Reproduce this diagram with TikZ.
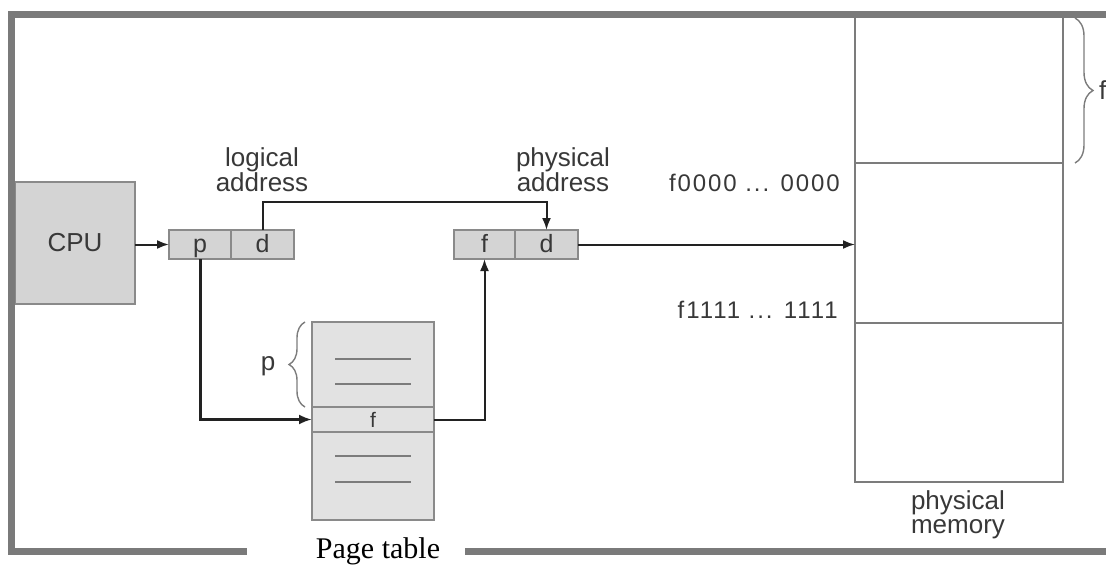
\documentclass[tikz,border=0pt]{standalone}
\usepackage{fontspec}
\setmainfont{Liberation Sans}
\newfontfamily\captionserif{Liberation Serif}
\newfontfamily\spacedsans[LetterSpace=8]{Liberation Sans}
\usetikzlibrary{arrows.meta,decorations.pathreplacing,calc}

\definecolor{framegray}{HTML}{7A7A7A}
\definecolor{boxfill}{HTML}{D4D4D4}
\definecolor{ptfill}{HTML}{E2E2E2}
\definecolor{boxline}{HTML}{8A8A8A}
\definecolor{memline}{HTML}{7C7C7C}
\definecolor{conn}{HTML}{222222}
\definecolor{txt}{HTML}{383838}

\begin{document}
\begin{tikzpicture}[x=1pt,y=-1pt,
  cell/.style={draw=boxline, fill=boxfill, line width=1.5pt, minimum height=29pt,
    inner sep=0pt, outer sep=0pt, text=txt, font=\fontsize{25}{25}\selectfont,
    text height=18pt, text depth=2pt},
  cpubox/.style={draw=boxline, fill=boxfill, line width=1.5pt,
    inner sep=0pt, outer sep=0pt, text=txt, font=\fontsize{26}{26}\selectfont},
  memcell/.style={draw=memline, fill=white, line width=1.6pt, minimum width=208pt,
    inner sep=0pt, outer sep=0pt},
  ptcell/.style={draw=boxline, fill=ptfill, line width=1.5pt, minimum width=122pt,
    inner sep=0pt, outer sep=0pt, text=txt},
  ptrule/.style={draw=memline, line width=1.6pt},
  arr/.style={draw=conn, line width=2pt, -{Latex[length=12pt,width=9pt]}},
  thickarr/.style={draw=conn, line width=3pt, -{Latex[length=13pt,width=10pt]}},
  lbl/.style={align=center, inner sep=0pt, text=txt, font=\fontsize{26}{24}\selectfont},
  bits/.style={inner sep=0pt, text=txt, font=\spacedsans\fontsize{24}{24}\selectfont},
  bracemark/.style={draw=memline, line width=1.4pt, decorate},
  frame/.style={draw=framegray, line width=7pt}
]
\useasboundingbox (0,0) rectangle (1106,567);

% CPU
\node[cpubox, minimum width=120pt, minimum height=122pt, anchor=north west] (cpu) at (15,182) {CPU};

% logical address p | d
\node[cell, minimum width=62pt, anchor=north west] (lp) at (169,230) {p};
\node[cell, minimum width=63pt, anchor=west] (ld) at (lp.east) {d};
\node[lbl] (loglbl) at (262,170) {logical\\address};

% physical address f | d
\node[cell, minimum width=61pt, anchor=north west] (fp) at (454,230) {f};
\node[cell, minimum width=63pt, anchor=west] (pd) at (fp.east) {d};
\node[lbl] (physlbl) at (563,170) {physical\\address};

% physical memory frames
\node[memcell, minimum height=148pt, anchor=north west] (m1) at (855,15) {};
\node[memcell, minimum height=160pt, anchor=north] (m2) at (m1.south) {};
\node[memcell, minimum height=159pt, anchor=north] (m3) at (m2.south) {};
\node[lbl] (memlbl) at (958,515) {physical\\memory};
\node[bits, anchor=east] (lo) at (840,183) {f0000 ... 0000};
\node[bits, anchor=east] (hi) at (838,310) {f1111 ... 1111};

% page table
\node[ptcell, minimum height=85pt, anchor=north west] (ptop) at (312,322) {};
\node[ptcell, minimum height=25pt, anchor=north, font=\fontsize{21}{21}\selectfont] (pf) at (ptop.south) {f};
\node[ptcell, minimum height=88pt, anchor=north] (pbot) at (pf.south) {};
\draw[ptrule] ($(ptop.north west)+(23,37)$) -- ++(76,0);
\draw[ptrule] ($(ptop.north west)+(23,62)$) -- ++(76,0);
\draw[ptrule] ($(pbot.north west)+(23,24)$) -- ++(76,0);
\draw[ptrule] ($(pbot.north west)+(23,50)$) -- ++(76,0);

% braces
\draw[bracemark, decoration={brace, amplitude=16pt}] (305,407) -- (305,322);
\node[lbl] (plbl) at (268,366) {p};
\draw[bracemark, decoration={brace, amplitude=18pt}] (1075,18) -- (1075,163);
\node[lbl, anchor=west] (flbl) at (1099,90) {f};

% connectors
\draw[arr] (cpu.east |- lp.west) -- (lp.west);
\coordinate (jog) at (0,202);
\draw[arr] (ld.north) -- (ld.north |- jog) -- (pd.north |- jog) -- (pd.north);
\draw[thickarr] (lp.south) |- (pf.west);
\draw[arr] (pf.east) -| (fp.south);
\draw[arr] (pd.east) -- (pd.east -| m2.west);

% outer frame, open where the caption sits
\draw[frame] (1106,15) -- (11.5,15) -- (11.5,551.5) -- (247,551.5);
\draw[frame] (465,551.5) -- (1106,551.5);
\node[inner sep=0pt, anchor=base, font=\captionserif\fontsize{30}{30}\selectfont] (cap) at (378,558) {Page table};
\end{tikzpicture}
\end{document}
